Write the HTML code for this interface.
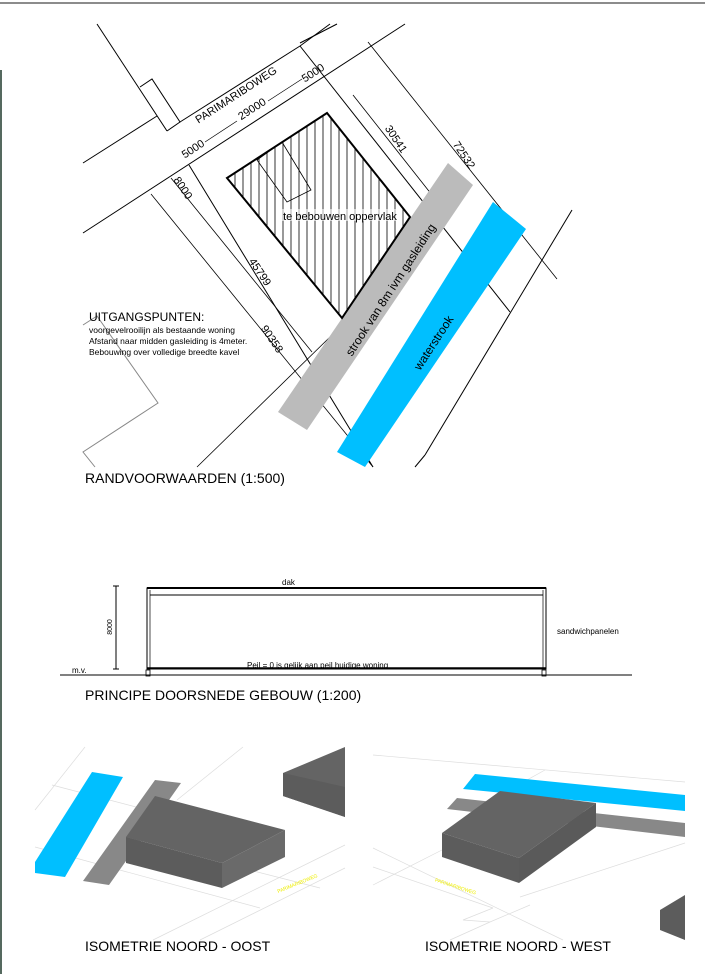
<!DOCTYPE html>
<html><head><meta charset="utf-8"><style>
html,body{margin:0;padding:0;background:#fff;}
svg{display:block;font-family:"Liberation Sans",Arial,sans-serif;}
</style></head><body>
<svg width="705" height="974" viewBox="0 0 705 974" xmlns="http://www.w3.org/2000/svg">
<rect width="705" height="974" fill="#fff"/>
<line x1="0" y1="3" x2="705" y2="3" stroke="#666" stroke-width="1.5"/>
<rect x="0" y="70" width="2" height="904" fill="#55695f"/>

<!-- site plan -->
<g stroke="#000" stroke-width="1" fill="none">
  <line x1="97" y1="24" x2="167" y2="131"/>
  <polyline points="140,87 152,79 180,122 167,131"/>
  <line x1="83" y1="163" x2="157" y2="116"/>
  <line x1="180" y1="122" x2="300" y2="46"/>
  <line x1="300" y1="46" x2="330" y2="24"/>
  <line x1="300" y1="43" x2="337" y2="24"/>
  <line x1="83" y1="233" x2="405" y2="24"/>
  <line x1="205" y1="142" x2="237" y2="121" stroke-width="0.7"/>
  <line x1="268" y1="101" x2="302" y2="79" stroke-width="0.7"/>
  <line x1="300" y1="46" x2="510" y2="312"/>
  <line x1="368" y1="42" x2="557" y2="279" stroke-width="0.8"/>
  <line x1="353" y1="95" x2="432" y2="195" stroke-width="0.8"/>
  <line x1="189" y1="165" x2="373" y2="467"/>
  <line x1="171" y1="178" x2="192" y2="204" stroke-width="0.8"/>
  <line x1="192" y1="204" x2="312" y2="352" stroke-width="0.8"/>
  <line x1="151" y1="194" x2="373" y2="467" stroke-width="0.8"/>
  <line x1="197" y1="467" x2="330" y2="337" stroke-width="0.8"/>
  <line x1="572" y1="210" x2="425" y2="455"/>
  <line x1="425" y1="455" x2="415" y2="467"/>
</g>
<polyline points="83,325 97,316 158,403 83,452 95,467" fill="none" stroke="#888" stroke-width="1"/>
<polygon points="448,163 473,185 307,430 278,412" fill="#bbbbbb"/>
<polygon points="493,202 526,229 365,467 337,452" fill="#00bfff"/>
<defs><clipPath id="sq"><polygon points="227,178 327,113 410,217 342,318"/></clipPath></defs>
<g clip-path="url(#sq)" stroke="#000" stroke-width="0.8">
  <line x1="235" y1="100" x2="235" y2="330"/><line x1="243" y1="100" x2="243" y2="330"/>
  <line x1="251" y1="100" x2="251" y2="330"/><line x1="259" y1="100" x2="259" y2="330"/>
  <line x1="267" y1="100" x2="267" y2="330"/><line x1="275" y1="100" x2="275" y2="330"/>
  <line x1="283" y1="100" x2="283" y2="330"/><line x1="291" y1="100" x2="291" y2="330"/>
  <line x1="299" y1="100" x2="299" y2="330"/><line x1="307" y1="100" x2="307" y2="330"/>
  <line x1="315" y1="100" x2="315" y2="330"/><line x1="323" y1="100" x2="323" y2="330"/>
  <line x1="331" y1="100" x2="331" y2="330"/><line x1="339" y1="100" x2="339" y2="330"/>
  <line x1="347" y1="100" x2="347" y2="330"/><line x1="355" y1="100" x2="355" y2="330"/>
  <line x1="363" y1="100" x2="363" y2="330"/><line x1="371" y1="100" x2="371" y2="330"/>
  <line x1="379" y1="100" x2="379" y2="330"/><line x1="387" y1="100" x2="387" y2="330"/>
  <line x1="395" y1="100" x2="395" y2="330"/><line x1="403" y1="100" x2="403" y2="330"/>
</g>
<polygon points="227,178 327,113 410,217 342,318" fill="none" stroke="#000" stroke-width="2"/>
<polygon points="257,160 282,142 311,190 287,202" fill="none" stroke="#000" stroke-width="0.8"/>
<rect x="278" y="209" width="120" height="12" fill="#fff" opacity="0.6"/>
<g font-size="11" fill="#000">
  <text x="340" y="220" text-anchor="middle">te bebouwen oppervlak</text>
  <text transform="translate(238,98) rotate(-33)" text-anchor="middle">PARIMARIBOWEG</text>
  <text transform="translate(254,112) rotate(-33)" text-anchor="middle">29000</text>
  <text transform="translate(195,152) rotate(-33)" text-anchor="middle">5000</text>
  <text transform="translate(315,76) rotate(-33)" text-anchor="middle">5000</text>
  <text transform="translate(180,190) rotate(56)" text-anchor="middle">8000</text>
  <text transform="translate(257,274) rotate(56)" text-anchor="middle">45799</text>
  <text transform="translate(269,341) rotate(56)" text-anchor="middle">90358</text>
  <text transform="translate(393,141) rotate(56)" text-anchor="middle">30541</text>
  <text transform="translate(461,157) rotate(56)" text-anchor="middle">72532</text>
  <text transform="translate(394,292) rotate(-57)" text-anchor="middle" font-size="12">strook van 8m ivm gasleiding</text>
  <text transform="translate(437,345) rotate(-57)" text-anchor="middle" font-size="12">waterstrook</text>
  <text x="89" y="321" font-size="12">UITGANGSPUNTEN:</text>
  <text x="89" y="333" font-size="8.5">voorgevelrooilijn als bestaande woning</text>
  <text x="89" y="344" font-size="8.5">Afstand naar midden gasleiding is 4meter.</text>
  <text x="89" y="355" font-size="8.5">Bebouwing over volledige breedte kavel</text>
  <text x="85" y="483" font-size="14">RANDVOORWAARDEN (1:500)</text>
</g>

<!-- section -->
<g stroke="#000" fill="none">
  <line x1="60" y1="675" x2="632" y2="675" stroke-width="1"/>
  <rect x="147" y="588" width="399" height="81" stroke-width="1"/>
  <line x1="147" y1="588" x2="546" y2="588" stroke-width="2"/>
  <line x1="150" y1="595" x2="543" y2="595" stroke-width="1"/>
  <line x1="150" y1="590" x2="150" y2="668" stroke-width="0.7"/>
  <line x1="543" y1="590" x2="543" y2="668" stroke-width="0.7"/>
  <line x1="147" y1="668" x2="546" y2="668" stroke-width="1.5"/>
  <rect x="146" y="670" width="4" height="6" stroke-width="0.8"/>
  <rect x="542" y="670" width="4" height="6" stroke-width="0.8"/>
  <line x1="116" y1="586" x2="116" y2="669" stroke-width="1"/>
  <line x1="113" y1="586" x2="119" y2="586"/>
  <line x1="113" y1="669" x2="119" y2="669"/>
</g>
<g fill="#000" font-size="8">
  <text x="282" y="585">dak</text>
  <text x="557" y="634">sandwichpanelen</text>
  <text x="247" y="668">Peil = 0 is gelijk aan peil huidige woning</text>
  <text x="72" y="673">m.v.</text>
  <text transform="translate(112,627) rotate(-90)" text-anchor="middle" font-size="7">8000</text>
  <text x="85" y="700" font-size="14">PRINCIPE DOORSNEDE GEBOUW (1:200)</text>
</g>

<!-- iso left -->
<g stroke="#ddd" stroke-width="0.7" fill="none">
  <line x1="35" y1="810" x2="85" y2="747"/>
  <line x1="52" y1="785" x2="140" y2="808"/>
  <line x1="35" y1="847" x2="260" y2="908"/>
  <line x1="177" y1="800" x2="243" y2="747"/>
  <line x1="153" y1="940" x2="345" y2="845"/>
  <line x1="200" y1="940" x2="345" y2="868"/>
  <line x1="222" y1="863" x2="320" y2="888"/>
</g>
<polygon points="92,772 123,777 65,877 35,873 35,862" fill="#00bfff"/>
<polygon points="155,780 181,783 109,885 83,881" fill="#888"/>
<polygon points="126,837 155,796 285,830 222,863" fill="#646464"/>
<polygon points="126,837 222,863 222,888 126,863" fill="#5c5c5c"/>
<polygon points="222,863 285,830 285,857 222,888" fill="#6a6a6a"/>
<polygon points="283,773 345,747 345,817 283,796" fill="#646464"/>
<polygon points="283,773 345,787 345,817 283,796" fill="#5c5c5c"/>
<text transform="translate(298,885) rotate(-22)" text-anchor="middle" font-size="5" fill="#ee0">PARIMARIBOWEG</text>
<!-- iso right -->
<g stroke="#ddd" stroke-width="0.7" fill="none">
  <line x1="373" y1="755" x2="685" y2="782"/>
  <line x1="373" y1="848" x2="563" y2="940"/>
  <line x1="373" y1="867" x2="493" y2="908"/>
  <line x1="685" y1="843" x2="520" y2="897"/>
  <line x1="545" y1="770" x2="500" y2="795"/>
  <line x1="373" y1="885" x2="442" y2="850"/>
  <polyline points="493,908 463,920 490,922 530,905"/>
  <line x1="490" y1="922" x2="450" y2="940"/>
</g>
<polygon points="475,774 685,795 685,811 463,789" fill="#00bfff"/>
<polygon points="457,798 685,823 685,837 447,809" fill="#888"/>
<polygon points="442,833 500,791 596,803 519,858" fill="#646464"/>
<polygon points="442,833 519,858 519,883 442,857" fill="#5c5c5c"/>
<polygon points="519,858 596,803 596,827 519,883" fill="#5a5a5a"/>
<polygon points="660,910 685,895 685,940 660,930" fill="#5c5c5c"/>
<text transform="translate(455,888) rotate(18)" text-anchor="middle" font-size="5" fill="#ee0">PARIMARIBOWEG</text>
<g fill="#000" font-size="14">
  <text x="85" y="951">ISOMETRIE NOORD - OOST</text>
  <text x="425" y="951">ISOMETRIE NOORD - WEST</text>
</g>
</svg>
</body></html>
